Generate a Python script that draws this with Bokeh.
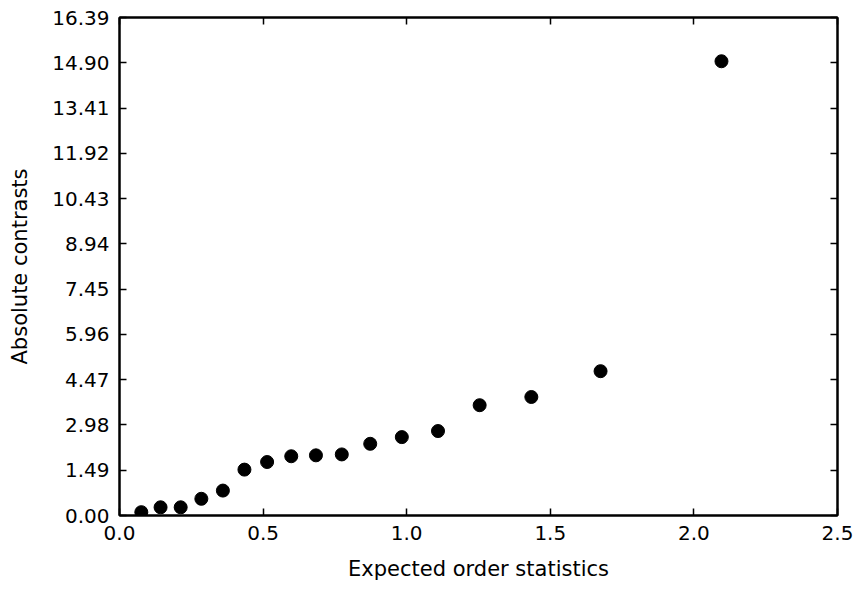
from bokeh.plotting import figure
from bokeh.models import Range1d, LinearAxis, FixedTicker
from bokeh.embed import file_html
from bokeh.resources import INLINE

# Data
expected_order = [0.076, 0.143, 0.213, 0.285, 0.360, 0.435, 0.514, 0.598, 0.684,
                  0.774, 0.873, 0.983, 1.109, 1.254, 1.434, 1.675, 2.096]
abs_contrasts = [0.11, 0.27, 0.27, 0.55, 0.82, 1.51, 1.76, 1.95, 1.98,
                 2.01, 2.36, 2.58, 2.78, 3.63, 3.90, 4.75, 14.95]

y_ticks = [0.00, 1.49, 2.98, 4.47, 5.96, 7.45, 8.94, 10.43, 11.92, 13.41, 14.90, 16.39]
y_tick_labels = ["0.00", "1.49", "2.98", "4.47", "5.96", "7.45", "8.94",
                 "10.43", "11.92", "13.41", "14.90", "16.39"]
x_ticks = [0.0, 0.5, 1.0, 1.5, 2.0, 2.5]
x_tick_labels = ["0.0", "0.5", "1.0", "1.5", "2.0", "2.5"]

FONT = "DejaVu Sans"

p = figure(width=857, height=590, output_backend="svg", toolbar_location=None,
           x_range=Range1d(0, 2.5), y_range=Range1d(0, 16.39),
           x_axis_label="Expected order statistics", y_axis_label="Absolute contrasts",
           min_border_left=119, min_border_right=20, min_border_top=17, min_border_bottom=75)

p.background_fill_color = "white"
p.border_fill_color = "white"
p.grid.visible = False
p.outline_line_color = "black"
p.outline_line_width = 2

p.scatter(expected_order, abs_contrasts, size=13, color="black")

def style_axis(ax, ticks, labels, show_labels):
    ax.ticker = FixedTicker(ticks=ticks)
    ax.major_label_overrides = {t: (l if show_labels else "") for t, l in zip(ticks, labels)}
    ax.axis_line_color = "black"
    ax.axis_line_width = 2
    ax.major_tick_line_color = "black"
    ax.major_tick_line_width = 1.5
    ax.major_tick_in = 7
    ax.major_tick_out = 0
    ax.minor_tick_line_color = None
    ax.major_label_text_font = FONT
    ax.major_label_text_color = "black"
    if show_labels:
        ax.major_label_text_font_size = "20px"
    else:
        ax.major_label_text_font_size = "0px"
        ax.major_label_standoff = 0

xa = p.xaxis[0]
ya = p.yaxis[0]
style_axis(xa, x_ticks, x_tick_labels, True)
style_axis(ya, y_ticks, y_tick_labels, True)
xa.major_label_standoff = 10
ya.major_label_standoff = 10
for ax in (xa, ya):
    ax.axis_label_text_font = FONT
    ax.axis_label_text_font_size = "21px"
    ax.axis_label_text_font_style = "normal"
    ax.axis_label_text_color = "black"
xa.axis_label_standoff = 14
ya.axis_label_standoff = 17

right_ax = LinearAxis()
style_axis(right_ax, y_ticks, y_tick_labels, False)
p.add_layout(right_ax, "right")
top_ax = LinearAxis()
style_axis(top_ax, x_ticks, x_tick_labels, False)
p.add_layout(top_ax, "above")

open("out.html", "w").write(file_html(p, INLINE))
